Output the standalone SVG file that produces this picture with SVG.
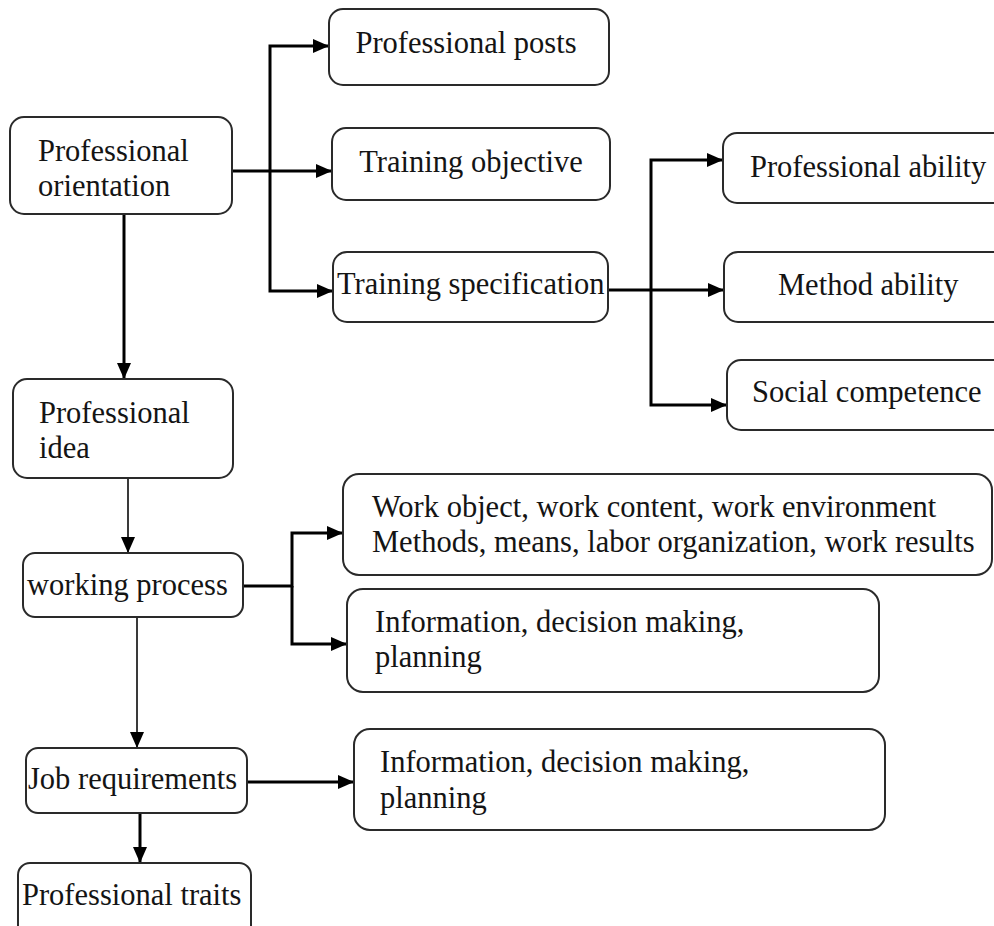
<svg xmlns="http://www.w3.org/2000/svg" width="994" height="926" viewBox="0 0 994 926">
<style>
.box{fill:#fff;stroke:#2a2a2a;stroke-width:2}
.t{font-family:"Liberation Serif","Times New Roman",serif;font-size:30.5px;fill:#141414}
.c{fill:none;stroke:#000;stroke-width:3}
.thin{fill:none;stroke:#3a3a3a;stroke-width:2}
</style>
<defs>
<marker id="ah" viewBox="0 0 16 14" refX="16" refY="7" markerWidth="16" markerHeight="14" markerUnits="userSpaceOnUse" orient="auto">
<path d="M0,0 L16,7 L0,14 z" fill="#000"/>
</marker>
</defs>
<rect width="994" height="926" fill="#fff"/>
<g id="connectors">
<path class="c" d="M232 171 H332" marker-end="url(#ah)"/>
<path class="c" d="M270 171 V46 H329" marker-end="url(#ah)"/>
<path class="c" d="M270 171 V291 H333" marker-end="url(#ah)"/>
<path class="c" d="M124 214 V379" marker-end="url(#ah)"/>
<path class="thin" d="M128 478 V553" marker-end="url(#ah)"/>
<path class="c" d="M243 586 H292 V533 H343" marker-end="url(#ah)"/>
<path class="c" d="M292 586 V644 H347" marker-end="url(#ah)"/>
<path class="thin" d="M137 617 V748" marker-end="url(#ah)"/>
<path class="c" d="M247 782 H354" marker-end="url(#ah)"/>
<path class="c" d="M140 813 V863" marker-end="url(#ah)"/>
<path class="c" d="M608 290 H724" marker-end="url(#ah)"/>
<path class="c" d="M651 290 V160 H723" marker-end="url(#ah)"/>
<path class="c" d="M651 290 V405 H727" marker-end="url(#ah)"/>
</g>
<g id="n-orientation"><rect class="box" x="10" y="117" width="222" height="97" rx="14"/><text class="t" x="38" y="161">Professional</text><text class="t" x="38" y="196">orientation</text></g>
<g id="n-posts"><rect class="box" x="329" y="9" width="280" height="76" rx="14"/><text class="t" x="466" y="53" text-anchor="middle">Professional posts</text></g>
<g id="n-objective"><rect class="box" x="332" y="128" width="278" height="72" rx="14"/><text class="t" x="471" y="172" text-anchor="middle">Training objective</text></g>
<g id="n-specification"><rect class="box" x="333" y="252" width="275" height="70" rx="14"/><text class="t" x="337" y="294">Training specification</text></g>
<g id="n-prof-ability"><rect class="box" x="723" y="133" width="290" height="70" rx="14"/><text class="t" x="750" y="177">Professional ability</text></g>
<g id="n-method-ability"><rect class="box" x="724" y="252" width="290" height="70" rx="14"/><text class="t" x="778" y="295">Method ability</text></g>
<g id="n-social"><rect class="box" x="727" y="360" width="290" height="70" rx="14"/><text class="t" x="752" y="402">Social competence</text></g>
<g id="n-idea"><rect class="box" x="13" y="379" width="220" height="99" rx="14"/><text class="t" x="39" y="423">Professional</text><text class="t" x="39" y="458">idea</text></g>
<g id="n-working"><rect class="box" x="23" y="553" width="220" height="64" rx="12"/><text class="t" x="27" y="595">working process</text></g>
<g id="n-work-object"><rect class="box" x="343" y="474" width="649" height="101" rx="16"/><text class="t" x="372" y="517">Work object, work content, work environment</text><text class="t" x="372" y="552">Methods, means, labor organization, work results</text></g>
<g id="n-info1"><rect class="box" x="347" y="589" width="532" height="103" rx="16"/><text class="t" x="375" y="632">Information, decision making,</text><text class="t" x="375" y="667">planning</text></g>
<g id="n-job"><rect class="box" x="26" y="748" width="221" height="65" rx="12"/><text class="t" x="28" y="789">Job requirements</text></g>
<g id="n-info2"><rect class="box" x="354" y="729" width="531" height="101" rx="16"/><text class="t" x="380" y="772">Information, decision making,</text><text class="t" x="380" y="808">planning</text></g>
<g id="n-traits"><rect class="box" x="18" y="863" width="233" height="75" rx="12"/><text class="t" x="22" y="905">Professional traits</text></g>
</svg>
